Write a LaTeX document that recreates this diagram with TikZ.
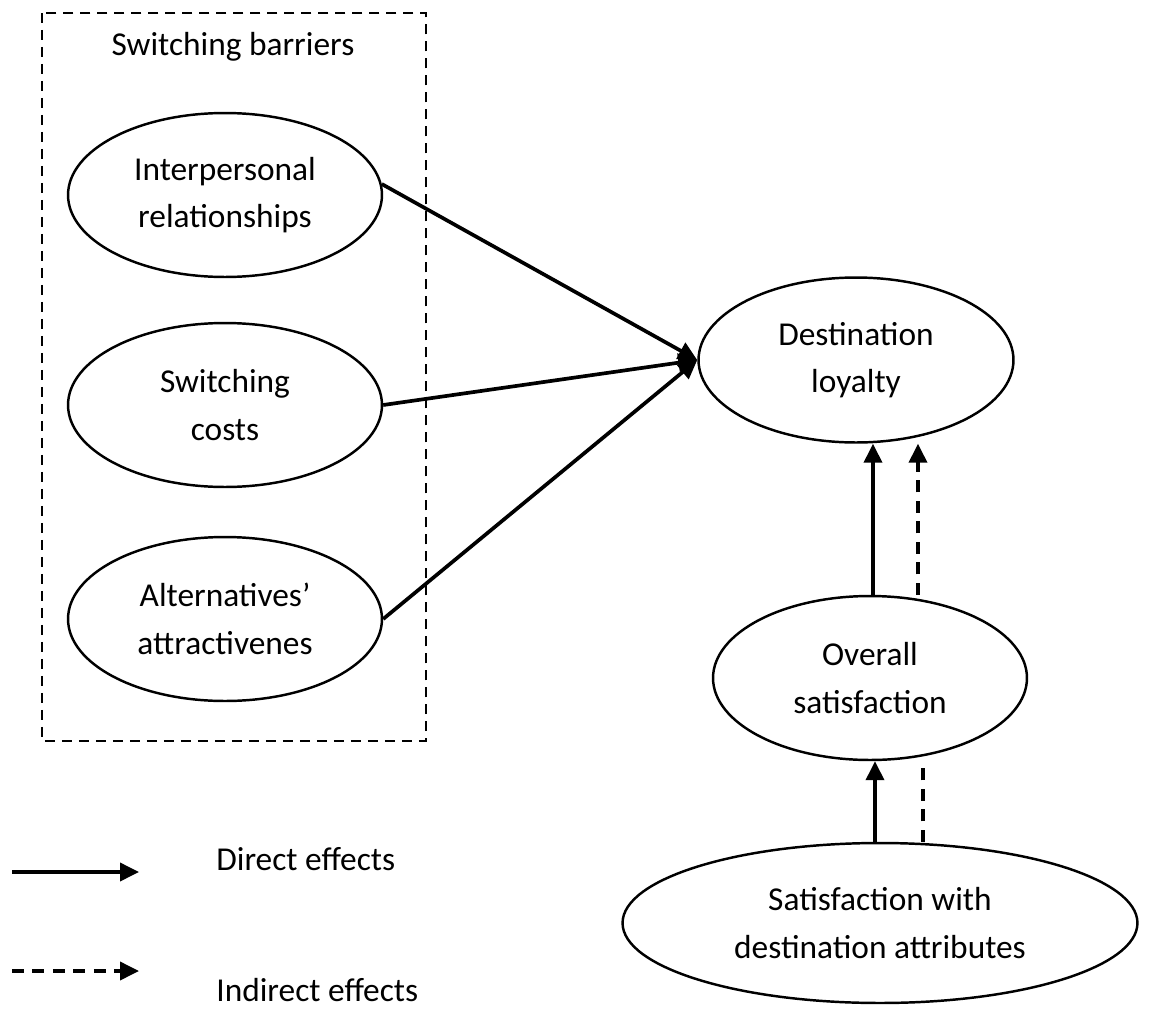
\documentclass[tikz,border=0pt]{standalone}
\usepackage{fontspec}
\setmainfont{Carlito}
\usetikzlibrary{shapes.geometric,arrows.meta}

\tikzset{
  factor/.style = {draw, ellipse, line width=1.4pt, inner sep=0pt, align=center,
    minimum width=6.28cm, minimum height=3.28cm},
  effect/.style = {line width=2.1pt, -{Triangle[length=0.38cm,width=0.36cm]}},
  dashline/.style = {dash pattern=on 0.24cm off 0.17cm},
  legendtext/.style = {anchor=base west, inner sep=0pt}
}

\begin{document}
\begin{tikzpicture}[x=0.02cm, y=-0.02cm, font=\fontsize{19}{27}\selectfont]
\useasboundingbox (0,0) rectangle (1157,1011);

% switching barriers
\draw[line width=1.5pt, dash pattern=on 0.2cm off 0.14cm] (42,13) rectangle (426,741);
\node (barriers) at (233,47) {Switching barriers};

\node[factor] (interp) at (225,195) {Interpersonal\\relationships};
\node[factor] (costs) at (225,405) {Switching\\costs};
\node[factor] (alter) at (225,619) {Alternatives’\\attractivenes};

% outcomes
\node[factor, minimum width=6.3cm, minimum height=3.3cm] (loyal) at (856,360) {Destination\\loyalty};
\node[factor] (overall) at (870,678) {Overall\\satisfaction};
\node[factor, minimum width=10.3cm, minimum height=3.2cm] (attrib) at (880,923) {Satisfaction with\\destination attributes};

\draw[effect] (interp.4) -- (loyal.west);
\draw[effect] (costs.east) -- (loyal.west);
\draw[effect] (alter.east) -- (loyal.west);

\draw[effect] ([xshift=0.06cm]overall.north) -- ([xshift=0.06cm]overall.north |- loyal.south);
\draw[effect, dashline] ([xshift=0.96cm]overall.north) -- ([xshift=0.96cm]overall.north |- loyal.south);

\draw[effect] ([xshift=0.1cm]overall.south |- attrib.north) -- ([xshift=0.1cm]overall.south);
\draw[line width=2.1pt, dashline] ([xshift=1.06cm]overall.south |- attrib.north) -- ([xshift=1.06cm]overall.south);

% legend
\coordinate (d0) at (12,872);
\coordinate (d1) at (139,872);
\coordinate (i0) at (12,971);
\coordinate (i1) at (139,971);
\draw[effect] (d0) -- (d1);
\draw[effect, dashline] (i0) -- (i1);
\node[legendtext] (direct) at (216,870) {Direct effects};
\node[legendtext] (indirect) at (216,1001) {Indirect effects};
\end{tikzpicture}
\end{document}
